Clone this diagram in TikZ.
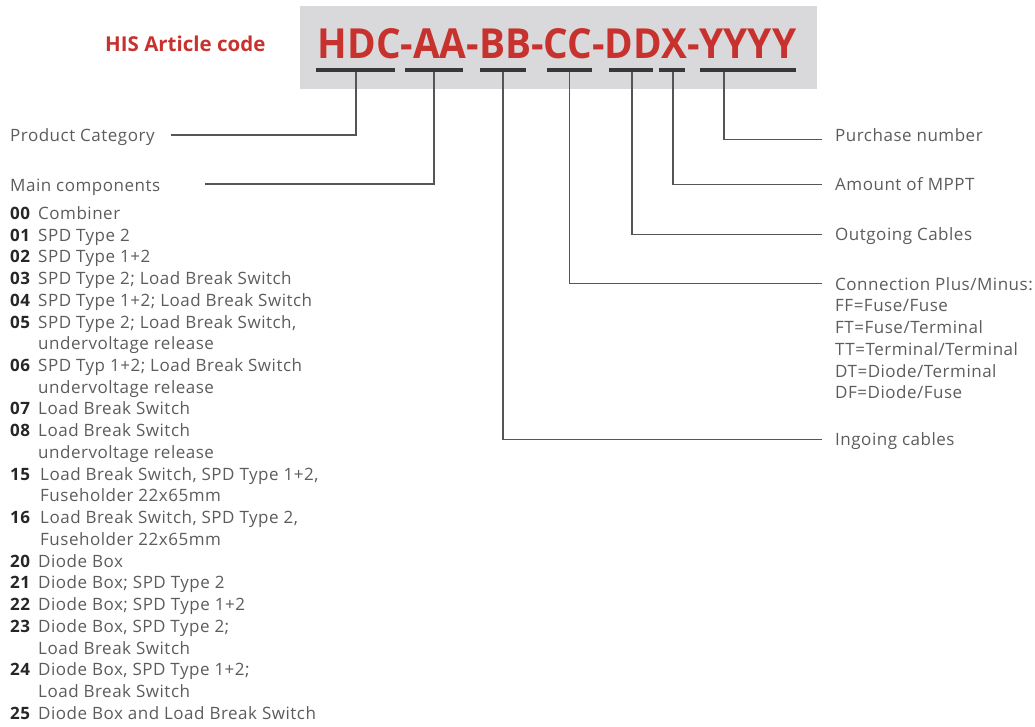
\documentclass[tikz,border=0pt]{standalone}
\usepackage{fontspec}
\setmainfont{Open Sans}
\newfontfamily\bodyfont{Open Sans}[LetterSpace=3]
\usepackage{graphicx}
\usetikzlibrary{positioning}

\definecolor{hisred}{RGB}{200,50,46}
\definecolor{boxgray}{RGB}{217,217,219}
\definecolor{bargray}{RGB}{55,55,55}
\definecolor{linegray}{RGB}{85,85,85}
\definecolor{textgray}{RGB}{92,92,92}
\definecolor{numblack}{RGB}{38,38,38}

\begin{document}
\begin{tikzpicture}
		[
			x=1pt, y=-1pt,
			txt/.style={anchor=base west, inner sep=0pt, text height=12.5pt, text depth=0pt,
				text=textgray, font=\fontsize{17}{21.7}\bodyfont},
			num/.style={txt, text=numblack, font=\fontsize{17}{21.7}\bodyfont\bfseries},
			bar/.style={fill=bargray, draw=none, anchor=west, inner sep=0pt, minimum height=4pt},
			leader/.style={draw=linegray, line width=1.4pt}
		]

		\useasboundingbox (0,0) rectangle (1035,727);

		% code box
		\fill[boxgray] (300,6) rectangle (817,89.5);
		\node[anchor=base west, inner sep=0pt, text=hisred, font=\fontsize{20.5}{24}\selectfont\bfseries]
			(title) at ( 105, 52 ) {HIS Article code};
		\node[anchor=south west, inner sep=0pt, text=hisred]
			(code) at ( 317.5, 59.5 ) {\resizebox{478.5pt}{30pt}{\bfseries HDC-AA-BB-CC-DDX-YYYY}};

		% bars under the code
		\foreach \name/\xa/\xb/\xt in
		{
			bhdc/316/395/356, baa/405/463/434,
			bbb/480/526/503, bcc/546.5/592/569.5,
			bdd/608.5/653/632, bx/658.5/685/673,
			byy/700/795.5/724}
		{
			\node[bar, minimum width={\xb-\xa}] (\name) at ( \xa, 70 ) {};
			\coordinate (\name-t) at ( \xt, 72 );
		}

		% labels
		\node[txt] (prod) at (  10, 141.7 ) {Product Category};
		\node[txt] (main) at (  10, 191.7 ) {Main components};

		\node[txt] (purch) at ( 835, 141.5 ) {Purchase number};
		\node[txt] (mppt)  at ( 835, 190.5 ) {Amount of MPPT};
		\node[txt] (outc)  at ( 835, 240.5 ) {Outgoing Cables};
		\node[txt] (conn)  at ( 835, 290.0 ) {Connection Plus/Minus:};
		\node[txt] (ff)    at ( 835, 311.7 ) {FF=Fuse/Fuse};
		\node[txt] (ft)    at ( 835, 333.5 ) {FT=Fuse/Terminal};
		\node[txt] (tt)    at ( 835, 355.2 ) {TT=Terminal/Terminal};
		\node[txt] (dt)    at ( 835, 377.0 ) {DT=Diode/Terminal};
		\node[txt] (df)    at ( 835, 398.7 ) {DF=Diode/Fuse};
		\node[txt] (ingc)  at ( 835, 445.5 ) {Ingoing cables};

		% main components list
		\foreach \row/\nr in
		{
			0/00, 1/01, 2/02, 3/03, 4/04, 5/05, 7/06, 9/07, 10/08,
			12/15, 14/16, 16/20, 17/21, 18/22, 19/23, 21/24, 23/25}
		\node[num] (n\row) at ( 10, 219.3+21.74*\row ) {\nr};

		\foreach \row/\tx/\desc in
		{
			0/38/Combiner,
			1/38/SPD Type 2,
			2/38/SPD Type 1+2,
			3/38/SPD Type 2; Load Break Switch,
			4/38/SPD Type 1+2; Load Break Switch,
			5/38/{SPD Type 2; Load Break Switch,},
			6/38/undervoltage release,
			7/38/SPD Typ 1+2; Load Break Switch,
			8/38/undervoltage release,
			9/38/Load Break Switch,
			10/38/Load Break Switch,
			11/38/undervoltage release,
			12/40/{Load Break Switch, SPD Type 1+2,},
			13/40/Fuseholder 22x65mm,
			14/40/{Load Break Switch, SPD Type 2,},
			15/40/Fuseholder 22x65mm,
			16/38/Diode Box,
			17/38/Diode Box; SPD Type 2,
			18/38/Diode Box; SPD Type 1+2,
			19/38/{Diode Box, SPD Type 2;},
			20/38/Load Break Switch,
			21/38/{Diode Box, SPD Type 1+2;},
			22/38/Load Break Switch,
			23/38/Diode Box and Load Break Switch}
		\node[txt] (d\row) at ( \tx, 219.3+21.74*\row ) {\desc};

		% leader lines
		\draw[leader] (bhdc-t) |- ([xshift=16pt, yshift=0.5pt]prod.east);
		\draw[leader] (baa-t)  |- ([xshift=45pt, yshift=1.5pt]main.east);
		\draw[leader] (byy-t)  |- ([xshift=-13pt, yshift=-4.5pt]purch.west);
		\draw[leader] (bx-t)   |- ([xshift=-13pt]mppt.west);
		\draw[leader] (bdd-t)  |- ([xshift=-13pt]outc.west);
		\draw[leader] (bcc-t)  |- ([xshift=-13pt]conn.west);
		\draw[leader] (bbb-t)  |- ([xshift=-13pt]ingc.west);

	\end{tikzpicture}
\end{document}
